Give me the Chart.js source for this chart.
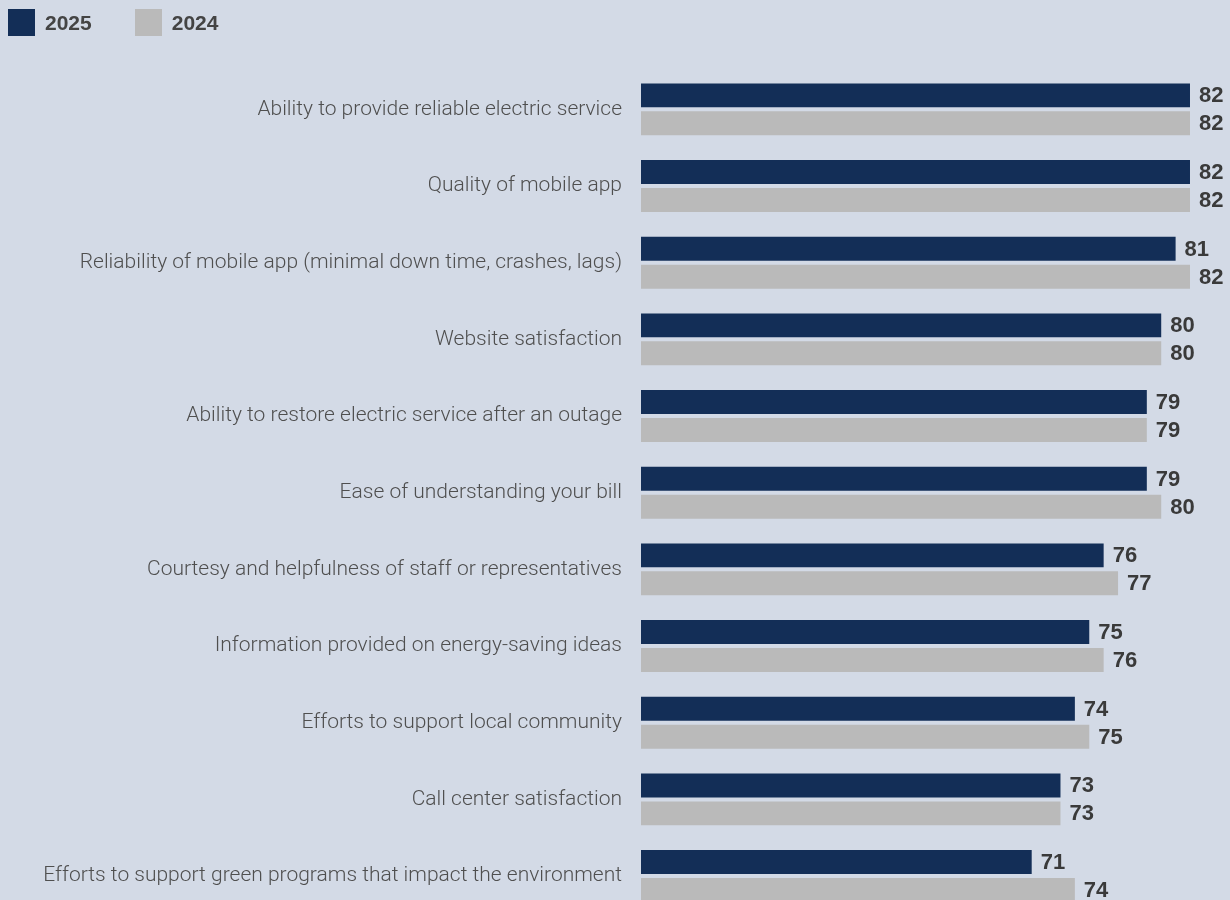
<!DOCTYPE html>
<html>
<head>
<meta charset="utf-8">
<script src="https://cdn.jsdelivr.net/npm/chart.js@4.4.1/dist/chart.umd.min.js"></script>
<style>
  html, body { margin: 0; padding: 0; background: #d3dae6; overflow: hidden; }
  #wrap { position: relative; width: 1230px; height: 946px; }
  .legend { position: absolute; top: 9px; left: 8px; display: flex; align-items: center;
    font: bold 21px "Liberation Sans", Arial, sans-serif; color: #444; }
  .legend span.box { display: inline-block; width: 27px; height: 27px; margin-right: 10px; }
  .legend .item { display: flex; align-items: center; margin-right: 43px; }
</style>
</head>
<body>
<div id="wrap">
  <div class="legend" id="legend"></div>
  <canvas id="chart" width="1230" height="946"></canvas>
</div>
<script>
const categories = [
  "Ability to provide reliable electric service",
  "Quality of mobile app",
  "Reliability of mobile app (minimal down time, crashes, lags)",
  "Website satisfaction",
  "Ability to restore electric service after an outage",
  "Ease of understanding your bill",
  "Courtesy and helpfulness of staff or representatives",
  "Information provided on energy-saving ideas",
  "Efforts to support local community",
  "Call center satisfaction",
  "Efforts to support green programs that impact the environment"
];
const values2025 = [82, 82, 81, 80, 79, 79, 76, 75, 74, 73, 71];
const values2024 = [82, 82, 82, 80, 79, 80, 77, 76, 75, 73, 74];
const seriesNames = ["2025", "2024"];
const seriesColors = ["#132e57", "#bababa"];

document.getElementById("legend").innerHTML = seriesNames.map((n, i) => `
  <div class="item"><span class="box" style="background:${seriesColors[i]}"></span>${n}</div>
`).join("");

// value labels to the right of each bar
const valueLabels = {
  id: "valueLabels",
  afterDatasetsDraw(chart) {
    const ctx = chart.ctx;
    ctx.save();
    ctx.font = "bold 22px 'Liberation Sans', Arial, sans-serif";
    ctx.fillStyle = "#3a3a3a";
    ctx.textAlign = "left";
    ctx.textBaseline = "middle";
    chart.data.datasets.forEach((ds, di) => {
      chart.getDatasetMeta(di).data.forEach((bar, i) => {
        ctx.fillText(String(ds.data[i]), bar.x + 9, bar.y + 1);
      });
    });
    ctx.restore();
  }
};

new Chart(document.getElementById("chart"), {
  type: "bar",
  data: {
    labels: categories,
    datasets: seriesNames.map((n, i) => ({
      label: n,
      data: i === 0 ? values2025 : values2024,
      backgroundColor: seriesColors[i],
      categoryPercentage: 0.729,
      barPercentage: 0.857,
    })),
  },
  options: {
    indexAxis: "y",
    responsive: false,
    animation: false,
    layout: { padding: { top: 71, bottom: 15, right: 0, left: 0 } },
    plugins: { legend: { display: false }, tooltip: { enabled: false } },
    scales: {
      x: { display: false, min: 43.85, max: 84.78 },
      y: {
        grid: { display: false, drawTicks: false },
        border: { display: false },
        afterFit: (scale) => { scale.width = 641; },
        ticks: {
          padding: 19,
          color: "#4f4f4f",
          font: { family: "Roboto", size: 21, weight: 300 },
        },
      },
    },
  },
  plugins: [valueLabels],
});
</script>
</body>
</html>
